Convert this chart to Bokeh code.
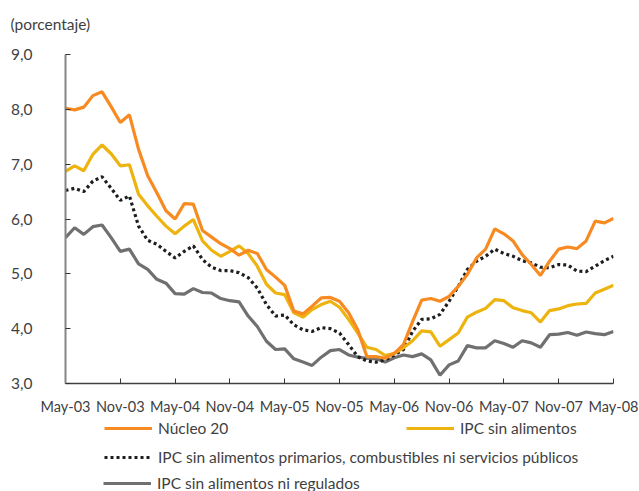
from bokeh.plotting import figure
from bokeh.models import Range1d, FixedTicker, Legend, LegendItem, Title
from bokeh.layouts import column
from bokeh.embed import file_html
from bokeh.resources import INLINE

# ---- data (monthly, May-03 .. May-08) ----
months = list(range(61))
tick_positions = [0, 6, 12, 18, 24, 30, 36, 42, 48, 54, 60]
tick_labels = ["May-03", "Nov-03", "May-04", "Nov-04", "May-05", "Nov-05",
               "May-06", "Nov-06", "May-07", "Nov-07", "May-08"]
y_ticks = [3, 4, 5, 6, 7, 8, 9]
y_tick_labels = ["3,0", "4,0", "5,0", "6,0", "7,0", "8,0", "9,0"]

nucleo20 = [8.02, 7.99, 8.04, 8.25, 8.32, 8.05, 7.76, 7.90, 7.27, 6.79, 6.48, 6.15, 6.00,
            6.28, 6.27, 5.79, 5.67, 5.55, 5.46, 5.34, 5.43, 5.37, 5.08, 4.94, 4.79,
            4.32, 4.27, 4.41, 4.56, 4.57, 4.50, 4.29, 3.98, 3.49, 3.49, 3.46, 3.55,
            3.71, 4.13, 4.52, 4.55, 4.50, 4.59, 4.77, 4.99, 5.29, 5.45, 5.82, 5.73,
            5.60, 5.35, 5.17, 4.97, 5.23, 5.45, 5.49, 5.46, 5.60, 5.96, 5.93, 6.01]

ipc_sin_alimentos = [6.87, 6.97, 6.88, 7.18, 7.35, 7.19, 6.97, 6.99, 6.45, 6.24, 6.05, 5.87, 5.73,
                     5.87, 5.99, 5.60, 5.43, 5.32, 5.41, 5.51, 5.37, 5.14, 4.81, 4.65, 4.62,
                     4.29, 4.21, 4.35, 4.44, 4.50, 4.39, 4.17, 3.92, 3.66, 3.62, 3.51, 3.55,
                     3.65, 3.78, 3.96, 3.94, 3.68, 3.80, 3.92, 4.21, 4.30, 4.37, 4.53, 4.51,
                     4.38, 4.33, 4.29, 4.12, 4.33, 4.36, 4.42, 4.45, 4.46, 4.65, 4.72, 4.79]

ipc_sin_primarios = [6.52, 6.56, 6.50, 6.69, 6.77, 6.56, 6.34, 6.42, 5.87, 5.61, 5.54, 5.41, 5.29,
                     5.41, 5.51, 5.26, 5.12, 5.06, 5.06, 5.02, 4.93, 4.74, 4.44, 4.23, 4.25,
                     4.07, 3.98, 3.95, 4.02, 4.00, 3.92, 3.71, 3.49, 3.41, 3.39, 3.43, 3.52,
                     3.62, 3.95, 4.17, 4.18, 4.26, 4.50, 4.77, 5.08, 5.23, 5.32, 5.45, 5.37,
                     5.32, 5.24, 5.20, 5.12, 5.11, 5.17, 5.16, 5.05, 5.04, 5.14, 5.24, 5.32]

ipc_sin_regulados = [5.66, 5.84, 5.72, 5.86, 5.89, 5.66, 5.41, 5.45, 5.18, 5.08, 4.90, 4.83, 4.64,
                     4.63, 4.73, 4.66, 4.65, 4.55, 4.51, 4.49, 4.23, 4.04, 3.77, 3.62, 3.63,
                     3.45, 3.39, 3.33, 3.48, 3.60, 3.62, 3.52, 3.48, 3.46, 3.45, 3.39, 3.47,
                     3.52, 3.49, 3.54, 3.43, 3.15, 3.34, 3.41, 3.69, 3.65, 3.65, 3.78, 3.73,
                     3.66, 3.78, 3.74, 3.66, 3.89, 3.90, 3.93, 3.88, 3.94, 3.91, 3.89, 3.95]

series_labels = ["Núcleo 20", "IPC sin alimentos",
                 "IPC sin alimentos primarios, combustibles ni servicios públicos",
                 "IPC sin alimentos ni regulados"]
series_data = [nucleo20, ipc_sin_alimentos, ipc_sin_primarios, ipc_sin_regulados]

FONT = "Lato"
TXT = "#3f3f3f"
FS = "14.5px"
colors = ["#F78B22", "#EDB40F", "#1e1e1e", "#707070"]
dashes = ["solid", "solid", "3 3", "solid"]
LW = 3.2

# ---------------- main chart ----------------
p = figure(width=639, height=418, output_backend="svg", toolbar_location=None,
           x_range=Range1d(0, 60), y_range=Range1d(3, 9),
           min_border_left=65, min_border_right=26, min_border_top=54, min_border_bottom=35)
p.outline_line_color = None
p.grid.visible = False

# two-line title block (second line blank) lifts the visible text toward the top
p.title = Title(text="(porcentaje)\n ", align="left", offset=-55, standoff=8,
                vertical_align="bottom",
                text_font=FONT, text_font_size="15.5px", text_font_style="normal",
                text_color=TXT)

p.xaxis.ticker = FixedTicker(ticks=tick_positions)
p.xaxis.major_label_overrides = {t: l for t, l in zip(tick_positions, tick_labels)}
p.yaxis.ticker = FixedTicker(ticks=y_ticks)
p.yaxis.major_label_overrides = {t: l for t, l in zip(y_ticks, y_tick_labels)}
for ax in (p.xaxis[0], p.yaxis[0]):
    ax.major_tick_in = 5
    ax.major_tick_out = 0
    ax.minor_tick_line_color = None
    ax.major_tick_line_color = "#333333"
    ax.major_label_text_font = FONT
    ax.major_label_text_font_size = FS
    ax.major_label_text_color = TXT
p.xaxis.axis_line_color = "#404040"
p.xaxis.axis_line_width = 1.5
p.xaxis.major_label_standoff = 14
p.yaxis.axis_line_color = "#858585"
p.yaxis.axis_line_width = 2
p.yaxis.major_label_standoff = 33
p.yaxis.major_label_text_font_size = "15.5px"

# draw grey first, orange last (orange on top)
for i in [3, 2, 1, 0]:
    p.line(months, series_data[i], line_color=colors[i], line_width=LW,
           line_dash=dashes[i])

# ---------------- legend strip ----------------
# Its frame is aligned with the main chart's frame (x 65..613). The series are
# drawn again here, outside the visible y range, only to feed the legend samples.
lf = figure(width=639, height=73, output_backend="svg", toolbar_location=None,
            x_range=Range1d(0, 60), y_range=Range1d(100, 101),
            x_axis_type=None, y_axis_type=None,
            min_border_left=65, min_border_right=26, min_border_top=0, min_border_bottom=0)
lf.outline_line_color = None
lf.grid.visible = False

leg_renderers = [lf.line(months, series_data[i], line_color=colors[i], line_width=LW,
                         line_dash=dashes[i])
                 for i in range(4)]

legend_locs = [(39, 54), (341, 54), (39, 25), (38, -1)]
for i in range(4):
    lg = Legend(items=[LegendItem(label=series_labels[i], renderers=[leg_renderers[i]])],
                location=legend_locs[i], orientation="horizontal",
                padding=0, margin=0, spacing=0,
                glyph_width=48, glyph_height=16, label_height=16,
                label_standoff=6,
                label_text_font=FONT, label_text_font_size="15.5px",
                label_text_color=TXT,
                border_line_alpha=0, background_fill_alpha=0)
    lf.add_layout(lg, "center")

layout = column(p, lf, spacing=0)
open("out.html", "w").write(file_html(layout, INLINE))
